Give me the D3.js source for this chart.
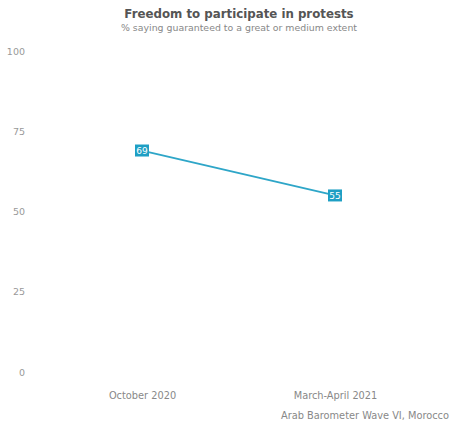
<!DOCTYPE html>
<html><head><meta charset="utf-8">
<script src="https://cdn.jsdelivr.net/npm/d3@7"></script>
<style>body{margin:0;background:#fff;}svg{display:block;font-family:"DejaVu Sans",sans-serif;}</style>
</head><body><div id="chart"></div>
<script>
const categories = ["October 2020", "March-April 2021"];
const values = [69, 55];
const yTicks = [0, 25, 50, 75, 100];
const title = "Freedom to participate in protests";
const subtitle = "% saying guaranteed to a great or medium extent";
const source = "Arab Barometer Wave VI, Morocco";

const W = 451, H = 425;
const svg = d3.select("#chart").append("svg").attr("width", W).attr("height", H);

const x = d3.scalePoint().domain(categories).range([142, 335]);
const y = d3.scaleLinear().domain([0, 100]).range([372, 51]);

svg.append("text").attr("x", 239).attr("y", 18).attr("text-anchor", "middle")
  .attr("font-size", 11.8).attr("font-weight", "bold").attr("fill", "#555").text(title);
svg.append("text").attr("x", 239).attr("y", 31).attr("text-anchor", "middle")
  .attr("font-size", 9.4).attr("fill", "#888").text(subtitle);

const yAxis = svg.append("g").attr("transform", "translate(33,0)")
  .call(d3.axisLeft(y).tickValues(yTicks).tickSize(0).tickPadding(8));
yAxis.select(".domain").remove();
yAxis.selectAll("text").attr("font-size", 9.5).attr("fill", "#999").attr("font-family", "DejaVu Sans, sans-serif");

const xAxis = svg.append("g").attr("transform", "translate(0,388)")
  .call(d3.axisBottom(x).tickSize(0).tickPadding(4));
xAxis.select(".domain").remove();
xAxis.selectAll("text").attr("font-size", 9.8).attr("fill", "#888").attr("font-family", "DejaVu Sans, sans-serif");

svg.append("text").attr("x", 449).attr("y", 419).attr("text-anchor", "end")
  .attr("font-size", 9.8).attr("fill", "#888").text(source);

const data = categories.map((c, i) => ({c, v: values[i]}));
svg.append("path").datum(data)
  .attr("fill", "none").attr("stroke", "#2ea6c8").attr("stroke-width", 1.8)
  .attr("d", d3.line().x(d => x(d.c)).y(d => y(d.v)));

const lab = svg.selectAll(".lab").data(data).enter().append("g")
  .attr("transform", d => `translate(${x(d.c)},${y(d.v)})`);
lab.append("rect").attr("x", -7).attr("y", -6).attr("width", 14).attr("height", 12).attr("fill", "#1e9fc4");
lab.append("text").attr("text-anchor", "middle").attr("dy", "0.35em")
  .attr("font-size", 9).attr("fill", "#fff").text(d => d.v);
</script></body></html>
